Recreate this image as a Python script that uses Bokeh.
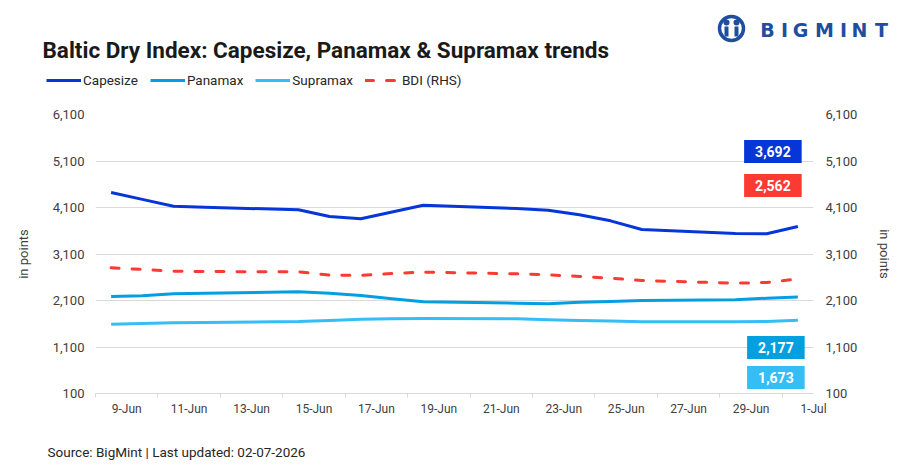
import pandas as pd
from bokeh.plotting import figure
from bokeh.layouts import column
from bokeh.models import (Range1d, LinearAxis, FixedTicker, NumeralTickFormatter,
                          Label, Legend, LegendItem)
from bokeh.core.properties import value
from bokeh.embed import file_html
from bokeh.resources import INLINE

# ---------------- data ----------------
dates = ["2026-06-09", "2026-06-10", "2026-06-11", "2026-06-12", "2026-06-15",
         "2026-06-16", "2026-06-17", "2026-06-18", "2026-06-19", "2026-06-22",
         "2026-06-23", "2026-06-24", "2026-06-25", "2026-06-26", "2026-06-29",
         "2026-06-30", "2026-07-01"]
capesize = [4422, 4275, 4128, 4106, 4050, 3906, 3857, 4003, 4150, 4078,
            4042, 3945, 3813, 3627, 3540, 3535, 3692]
panamax = [2186, 2201, 2244, 2257, 2287, 2257, 2207, 2136, 2072, 2042,
           2029, 2060, 2078, 2100, 2114, 2150, 2177]
supramax = [1590, 1605, 1620, 1627, 1648, 1670, 1698, 1705, 1713, 1706,
            1685, 1670, 1660, 1645, 1645, 1648, 1673]
bdi = [2803, 2767, 2730, 2723, 2717, 2645, 2638, 2680, 2710, 2674,
       2652, 2618, 2580, 2530, 2472, 2487, 2562]
series_names = ["Capesize", "Panamax", "Supramax", "BDI (RHS)"]
x_tick_labels = ["9-Jun", "11-Jun", "13-Jun", "15-Jun", "17-Jun", "19-Jun",
                 "21-Jun", "23-Jun", "25-Jun", "27-Jun", "29-Jun", "1-Jul"]
y_ticks = [100, 1100, 2100, 3100, 4100, 5100, 6100]
title_text = "Baltic Dry Index: Capesize, Panamax & Supramax trends"
source_text = "Source: BigMint | Last updated: 02-07-2026"

# ---------------- styles ----------------
C_CAPE = "#0636d8"
C_PANA = "#039fe0"
C_SUPRA = "#35bdf6"
C_BDI = "#fb3a33"
GRID = "#d9d9d9"
TXT = "#404040"
FONT = "Roboto"
LOGO = "#1f4e9e"
W = 905
H_HEAD, H_MAIN, H_FOOT = 100, 331, 40

line_styles = [dict(line_color=C_CAPE, line_width=3, line_join="round"),
               dict(line_color=C_PANA, line_width=3, line_join="round"),
               dict(line_color=C_SUPRA, line_width=3, line_join="round"),
               dict(line_color=C_BDI, line_width=3, line_dash="8 13", line_cap="round")]


def blank(h):
    f = figure(width=W, height=h, output_backend="svg", toolbar_location=None,
               x_range=Range1d(0, W), y_range=Range1d(h, 0),
               x_axis_location=None, y_axis_location=None,
               min_border=0, min_border_left=0, min_border_right=0,
               min_border_top=0, min_border_bottom=0, frame_align=False)
    f.grid.visible = False
    f.outline_line_color = None
    f.background_fill_color = "white"
    f.border_fill_color = "white"
    return f


# ---------------- header: logo, title, legend ----------------
head = blank(H_HEAD)
head.text(x=[42], y=[49], text=[title_text], text_baseline="middle",
          text_font=value(FONT), text_font_size="22.5px", text_font_style="bold",
          text_color="#1a1a1a")
# logo icon
head.scatter(x=[731], y=[28], size=24, marker="circle", fill_color=None,
             line_color=LOGO, line_width=3.5)
head.scatter(x=[726, 736], y=[22, 22], size=6, marker="circle", fill_color=LOGO,
             line_color=None)
head.quad(left=[724, 734], right=[728, 738], top=[26, 26], bottom=[36, 36],
          fill_color=LOGO, line_color=None)
letters = list("BIGMINT")
centers = [767, 784, 800, 824, 843, 859, 881]
head.text(x=centers, y=[29] * len(letters), text=letters, text_align="center",
          text_baseline="middle", text_font=value("DejaVu Sans"),
          text_font_size="19px", text_font_style="bold", text_color=LOGO)
# legend: sample glyphs share the chart's line styles (drawn off-canvas)
dummies = [head.line(x=[-20, -10], y=[-20, -20], **st) for st in line_styles]
legend = Legend(items=[LegendItem(label=nm, renderers=[r])
                       for nm, r in zip(series_names, dummies)],
                orientation="horizontal", location=(46, H_HEAD - 88),
                glyph_width=35, glyph_height=16, label_standoff=2, spacing=12,
                padding=0, margin=0, border_line_color=None,
                background_fill_alpha=0, label_text_font=FONT,
                label_text_font_size="13.5px", label_text_color="#262626",
                label_text_baseline="middle")
head.add_layout(legend, "center")

# ---------------- main chart ----------------
start = pd.Timestamp(dates[0])
xs = [(pd.Timestamp(d) - start).days for d in dates]
n_days = (pd.Timestamp(dates[-1]) - start).days + 1

p = figure(width=W, height=H_MAIN, output_backend="svg", toolbar_location=None,
           x_range=Range1d(-0.5, n_days - 0.5), y_range=Range1d(y_ticks[0], y_ticks[-1]),
           min_border_left=95, min_border_right=92, min_border_top=14,
           min_border_bottom=38, frame_align=False)
p.extra_y_ranges = {"rhs": Range1d(y_ticks[0], y_ticks[-1])}
p.outline_line_color = None
p.background_fill_color = "white"
p.border_fill_color = "white"

p.xgrid.visible = False
p.ygrid.ticker = FixedTicker(ticks=y_ticks)
p.ygrid.grid_line_color = GRID
p.ygrid.grid_line_width = 1

major = [0.5 + 2 * i for i in range(len(x_tick_labels))]
minor = [-0.5 + 2 * i for i in range(len(x_tick_labels))]
xa = p.xaxis[0]
xa.ticker = FixedTicker(ticks=major, minor_ticks=minor)
xa.major_label_overrides = {t: lab for t, lab in zip(major, x_tick_labels)}
xa.major_tick_out = 0
xa.major_tick_in = 0
xa.minor_tick_out = 4
xa.minor_tick_in = 0
xa.minor_tick_line_color = GRID
xa.axis_line_color = GRID
xa.major_label_standoff = 4
xa.major_label_text_font = FONT
xa.major_label_text_font_size = "12px"
xa.major_label_text_color = TXT

ya = p.yaxis[0]
ra = LinearAxis(y_range_name="rhs")
p.add_layout(ra, "right")
for ax in (ya, ra):
    ax.ticker = FixedTicker(ticks=y_ticks)
    ax.formatter = NumeralTickFormatter(format="0,0")
    ax.axis_line_color = None
    ax.major_tick_out = 0
    ax.major_tick_in = 0
    ax.minor_tick_out = 0
    ax.minor_tick_in = 0
    ax.major_label_text_font = FONT
    ax.major_label_text_font_size = "13px"
    ax.major_label_text_color = TXT
    ax.axis_label = "in points"
    ax.axis_label_text_font = FONT
    ax.axis_label_text_font_size = "13px"
    ax.axis_label_text_font_style = "normal"
    ax.axis_label_text_color = TXT
ya.major_label_standoff = 11
ya.axis_label_standoff = 19
ra.major_label_standoff = 12
ra.axis_label_standoff = 17

p.line(xs, capesize, **line_styles[0])
p.line(xs, panamax, **line_styles[1])
p.line(xs, supramax, **line_styles[2])
p.line(xs, bdi, y_range_name="rhs", **line_styles[3])

# end-value boxes (frame bottom = 0 in screen units)
boxes = [(capesize[-1], C_CAPE, 242, -25), (bdi[-1], C_BDI, 208, -25),
         (panamax[-1], C_PANA, 46, -22), (supramax[-1], C_SUPRA, 16, -22)]
for val, col, sy, xo in boxes:
    p.add_layout(Label(x=xs[-1], y=sy, y_units="screen", x_offset=xo,
                       text=f"{val:,}", text_align="center", text_baseline="middle",
                       text_font=FONT, text_font_size="14px", text_font_style="bold",
                       text_color="white", background_fill_color=col,
                       padding=(11, 6)))

# ---------------- footer: source ----------------
foot = blank(H_FOOT)
foot.text(x=[47], y=[20], text=[source_text], text_baseline="middle",
          text_font=value(FONT), text_font_size="13.5px", text_color="#262626")

layout = column(head, p, foot, spacing=0)
open("out.html", "w").write(file_html(layout, INLINE))
